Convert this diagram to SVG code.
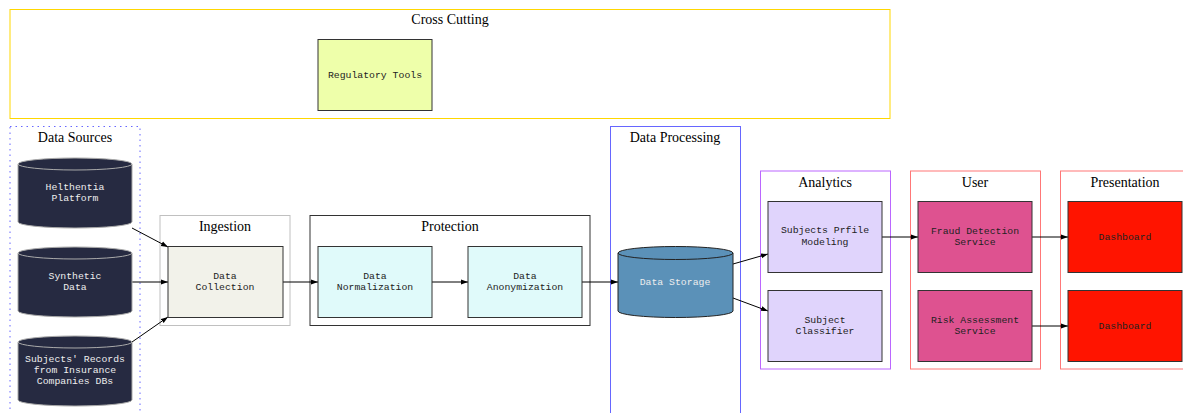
<svg xmlns="http://www.w3.org/2000/svg" width="1183" height="413" viewBox="0 0 1183 413">
<defs>
<style>
.title{font-family:"Liberation Serif",serif;font-size:14px;fill:#000;text-anchor:middle}
.lbl{font-family:"Liberation Mono",monospace;font-size:9.8px;text-anchor:middle}
.box{stroke:#333;stroke-width:1}
.edge{stroke:#000;stroke-width:1;fill:none;marker-end:url(#arr)}
.cl{fill:none;stroke-width:1}
</style>
<marker id="arr" viewBox="0 0 10 10" refX="10" refY="5" markerWidth="7" markerHeight="7" orient="auto" markerUnits="userSpaceOnUse">
<path d="M0,1.5 L10,5 L0,8.5 Z" fill="#000"/>
</marker>
</defs>
<rect width="1183" height="413" fill="#fff"/>

<g id="cluster-crosscutting">
<rect x="10" y="9.5" width="880" height="109" class="cl" stroke="#ffd700"/>
<text x="450" y="24" class="title">Cross Cutting</text>
</g>
<g id="cluster-datasources">
<rect x="10" y="126.5" width="130" height="300" class="cl" stroke="#6666ff" stroke-dasharray="1.5,4" stroke-width="2"/>
<text x="75" y="142" class="title">Data Sources</text>
</g>
<g id="cluster-ingestion">
<rect x="160" y="215.5" width="130" height="110" class="cl" stroke="#c0c0c0"/>
<text x="225" y="231" class="title">Ingestion</text>
</g>
<g id="cluster-protection">
<rect x="310" y="215.5" width="280" height="110" class="cl" stroke="#333"/>
<text x="450" y="231" class="title">Protection</text>
</g>
<g id="cluster-dataprocessing">
<rect x="610.5" y="126.5" width="130" height="300" class="cl" stroke="#6666ff"/>
<text x="675" y="142" class="title">Data Processing</text>
</g>
<g id="cluster-analytics">
<rect x="760.5" y="171" width="130" height="198" class="cl" stroke="#bb66ff"/>
<text x="825" y="187" class="title">Analytics</text>
</g>
<g id="cluster-user">
<rect x="910.5" y="171" width="130" height="198" class="cl" stroke="#ff7777"/>
<text x="975" y="187" class="title">User</text>
</g>
<g id="cluster-presentation">
<rect x="1060.5" y="171" width="130" height="198" class="cl" stroke="#ff7777"/>
<text x="1125" y="187" class="title">Presentation</text>
</g>

<g id="connectors">
<line x1="132" y1="228" x2="168" y2="247" class="edge"/>
<line x1="132" y1="282" x2="168" y2="282" class="edge"/>
<line x1="132" y1="342" x2="168" y2="317" class="edge"/>
<line x1="283" y1="282" x2="318" y2="282" class="edge"/>
<line x1="432" y1="282" x2="468" y2="282" class="edge"/>
<line x1="582" y1="282" x2="618" y2="282" class="edge"/>
<line x1="733" y1="264" x2="768" y2="254" class="edge"/>
<line x1="733" y1="298" x2="768" y2="311" class="edge"/>
<line x1="882" y1="237" x2="918" y2="237" class="edge"/>
<line x1="1032" y1="237" x2="1068" y2="237" class="edge"/>
<line x1="1032" y1="326" x2="1068" y2="326" class="edge"/>
</g>

<g id="node-regulatory">
<rect x="318" y="39.5" width="114" height="71" class="box" fill="#eeffaa"/>
<text x="375" y="78" class="lbl" fill="#222">Regulatory Tools</text>
</g>

<g id="node-helthentia">
<path d="M18,164 A57,6 0 0 1 132,164 V222 A57,6 0 0 1 18,222 Z" fill="#262a41" stroke="#aaa"/>
<path d="M18,164 A57,6 0 0 0 132,164" fill="none" stroke="#aaa"/>
<text x="75" y="190" class="lbl" fill="#eee">Helthentia</text>
<text x="75" y="201" class="lbl" fill="#eee">Platform</text>
</g>
<g id="node-synthetic">
<path d="M18,253 A57,6 0 0 1 132,253 V311 A57,6 0 0 1 18,311 Z" fill="#262a41" stroke="#aaa"/>
<path d="M18,253 A57,6 0 0 0 132,253" fill="none" stroke="#aaa"/>
<text x="75" y="279" class="lbl" fill="#eee">Synthetic</text>
<text x="75" y="290" class="lbl" fill="#eee">Data</text>
</g>
<g id="node-records">
<path d="M18,342 A57,6 0 0 1 132,342 V400 A57,6 0 0 1 18,400 Z" fill="#262a41" stroke="#aaa"/>
<path d="M18,342 A57,6 0 0 0 132,342" fill="none" stroke="#aaa"/>
<text x="75" y="362" class="lbl" fill="#eee">Subjects' Records</text>
<text x="75" y="373" class="lbl" fill="#eee">from Insurance</text>
<text x="75" y="384" class="lbl" fill="#eee">Companies DBs</text>
</g>

<g id="node-collection">
<rect x="168" y="246.5" width="115" height="71" class="box" fill="#f2f2ea"/>
<text x="225" y="279" class="lbl" fill="#222">Data</text>
<text x="225" y="290" class="lbl" fill="#222">Collection</text>
</g>
<g id="node-normalization">
<rect x="318" y="246.5" width="114" height="71" class="box" fill="#e0fafa"/>
<text x="375" y="279" class="lbl" fill="#222">Data</text>
<text x="375" y="290" class="lbl" fill="#222">Normalization</text>
</g>
<g id="node-anonymization">
<rect x="468" y="246.5" width="114" height="71" class="box" fill="#e0fafa"/>
<text x="525" y="279" class="lbl" fill="#222">Data</text>
<text x="525" y="290" class="lbl" fill="#222">Anonymization</text>
</g>
<g id="node-storage">
<path d="M618,253 A57.5,6.5 0 0 1 733,253 V311 A57.5,6.5 0 0 1 618,311 Z" fill="#5b91b8" stroke="#222"/>
<path d="M618,253 A57.5,6.5 0 0 0 733,253" fill="none" stroke="#222"/>
<text x="675" y="285" class="lbl" fill="#eee">Data Storage</text>
</g>
<g id="node-profile">
<rect x="768" y="201.5" width="114" height="71" class="box" fill="#e0d4fc"/>
<text x="825" y="233" class="lbl" fill="#222">Subjects Prfile</text>
<text x="825" y="245" class="lbl" fill="#222">Modeling</text>
</g>
<g id="node-classifier">
<rect x="768" y="290.5" width="114" height="71" class="box" fill="#e0d4fc"/>
<text x="825" y="323" class="lbl" fill="#222">Subject</text>
<text x="825" y="334" class="lbl" fill="#222">Classifier</text>
</g>
<g id="node-fraud">
<rect x="918" y="201.5" width="114" height="71" class="box" fill="#de5290"/>
<text x="975" y="234" class="lbl" fill="#222">Fraud Detection</text>
<text x="975" y="245" class="lbl" fill="#222">Service</text>
</g>
<g id="node-risk">
<rect x="918" y="290.5" width="114" height="71" class="box" fill="#de5290"/>
<text x="975" y="323" class="lbl" fill="#222">Risk Assessment</text>
<text x="975" y="334" class="lbl" fill="#222">Service</text>
</g>
<g id="node-dashboard1">
<rect x="1068" y="201.5" width="114" height="71" class="box" fill="#ff1400"/>
<text x="1125" y="240" class="lbl" fill="#222">Dashboard</text>
</g>
<g id="node-dashboard2">
<rect x="1068" y="290.5" width="114" height="71" class="box" fill="#ff1400"/>
<text x="1125" y="329" class="lbl" fill="#222">Dashboard</text>
</g>
</svg>
